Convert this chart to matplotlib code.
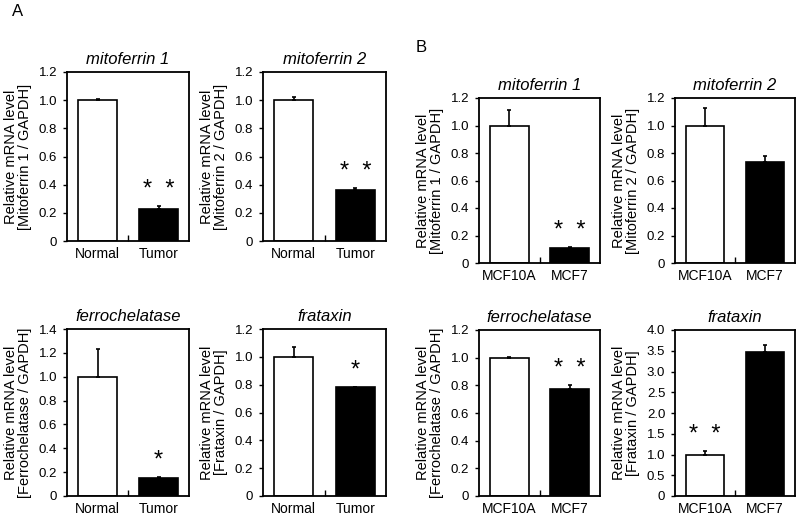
import numpy as np
import matplotlib
matplotlib.use('Agg')
import matplotlib.pyplot as plt

plt.rcParams['font.family'] = ['Liberation Sans', 'DejaVu Sans']

# panel A: tissue samples
groups_a = ['Normal', 'Tumor']
# panel B: cell lines
groups_b = ['MCF10A', 'MCF7']

titles = ['mitoferrin 1', 'mitoferrin 2', 'ferrochelatase', 'frataxin']
ylabel_names = ['Mitoferrin 1', 'Mitoferrin 2', 'Ferrochelatase', 'Frataxin']

a_mean = [[1.0, 0.23], [1.0, 0.365], [1.0, 0.15], [1.0, 0.78]]
a_err = [[0.01, 0.02], [0.02, 0.01], [0.235, 0.01], [0.07, 0.005]]
a_star = [[None, '* *'], [None, '* *'], [None, '*'], [None, '*']]
a_ymax = [1.2, 1.2, 1.4, 1.2]
a_ystep = [0.2, 0.2, 0.2, 0.2]

b_mean = [[1.0, 0.11], [1.0, 0.735], [1.0, 0.77], [1.0, 3.47]]
b_err = [[0.11, 0.005], [0.13, 0.04], [0.005, 0.03], [0.09, 0.18]]
b_star = [[None, '* *'], [None, None], [None, '* *'], ['* *', None]]
b_ymax = [1.2, 1.2, 1.2, 4.0]
b_ystep = [0.2, 0.2, 0.2, 0.5]

W, H = 800, 517
fig = plt.figure(figsize=(W / 100, H / 100), dpi=100)

# axes boxes in pixels: left, right, top, bottom
boxes_a = [(67, 189, 72, 241), (263, 386, 72, 241), (67, 189, 329, 496), (263, 386, 329, 496)]
boxes_b = [(479, 600, 98, 263), (675, 795, 98, 263), (479, 600, 330, 496), (675, 795, 330, 496)]


def fmt(v):
    return '0' if v == 0 else '%.1f' % v


def panel(box, groups, mean, err, stars, ymax, ystep, title, yname):
    l, r, t, b = box
    ax = fig.add_axes([l / W, 1 - b / H, (r - l) / W, (b - t) / H])
    x = np.arange(len(groups))
    colors = ['white', 'black']
    for i in range(len(groups)):
        ax.bar(x[i], mean[i], width=0.64, color=colors[i], edgecolor='black', linewidth=1.2, zorder=2)
        ax.errorbar(x[i], mean[i], yerr=[[0], [err[i]]], fmt='none', ecolor='black',
                    elinewidth=1.2, capsize=1.5, capthick=1.2, zorder=3)
        if stars[i]:
            ax.text(x[i], mean[i] + err[i] + 0.03 * ymax, stars[i].replace(' ', '  '),
                    ha='center', va='bottom', fontsize=17, zorder=4)
    ax.set_xlim(-0.5, 1.5)
    ax.set_ylim(0, ymax)
    ticks = np.arange(0, ymax + ystep / 2, ystep)
    ax.set_yticks(ticks)
    ax.set_yticklabels([fmt(v) for v in ticks], fontsize=9.5)
    ax.set_xticks(x)
    ax.set_xticklabels(groups, fontsize=10)
    ax.tick_params(axis='x', length=0, pad=4)
    ax.tick_params(axis='y', direction='out', length=3, width=1, pad=4)
    ax.set_xticks([0.5], minor=True)
    ax.tick_params(axis='x', which='minor', direction='in', length=4, width=1)
    for s in ax.spines.values():
        s.set_linewidth(1.3)
    ax.set_title(title, fontsize=12, style='italic', pad=6)
    ax.set_ylabel('Relative mRNA level\n[%s / GAPDH]' % yname, fontsize=10.5, labelpad=5,
                  linespacing=1.0)
    return ax


for k in range(4):
    panel(boxes_a[k], groups_a, a_mean[k], a_err[k], a_star[k], a_ymax[k], a_ystep[k],
          titles[k], ylabel_names[k])
    panel(boxes_b[k], groups_b, b_mean[k], b_err[k], b_star[k], b_ymax[k], b_ystep[k],
          titles[k], ylabel_names[k])

fig.text(12 / W, 1 - 11 / H, 'A', fontsize=12, va='center', ha='left')
fig.text(416 / W, 1 - 47 / H, 'B', fontsize=12, va='center', ha='left')

fig.savefig('out.png', dpi=100)
